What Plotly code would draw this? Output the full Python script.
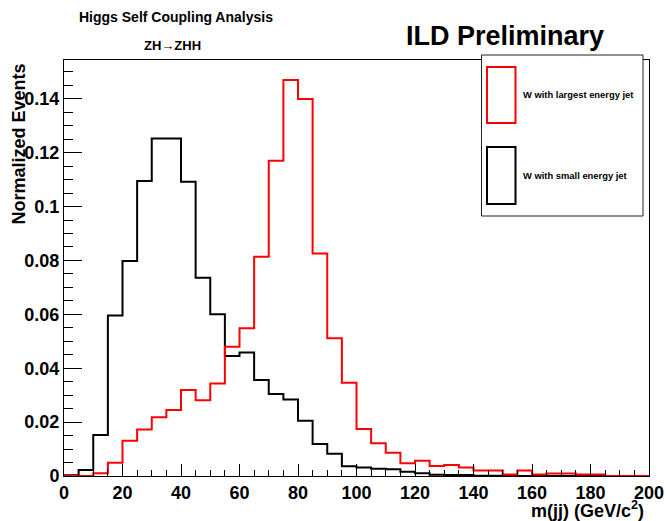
import plotly.graph_objects as go

# ---------------- data ----------------
bin_edges = [i * 5 for i in range(40)]  # left edges of 5 GeV bins, 0..195
x_max = 200

# W with largest energy jet (red)
red_values = [0.0000, 0.0000, 0.0010, 0.0049, 0.0131, 0.0173, 0.0218, 0.0245,
              0.0319, 0.0281, 0.0343, 0.0480, 0.0548, 0.0814, 0.1170, 0.1470,
              0.1399, 0.0826, 0.0511, 0.0346, 0.0174, 0.0122, 0.0086, 0.0047,
              0.0057, 0.0037, 0.0041, 0.0032, 0.0020, 0.0020, 0.0006, 0.0020,
              0.0006, 0.0009, 0.0009, 0.0006, 0.0006, 0.0000, 0.0000, 0.0000]

# W with small energy jet (black)
black_values = [0.0003, 0.0022, 0.0152, 0.0596, 0.0798, 0.1095, 0.1253, 0.1253,
                0.1092, 0.0736, 0.0600, 0.0445, 0.0458, 0.0356, 0.0304, 0.0284,
                0.0205, 0.0119, 0.0083, 0.0036, 0.0032, 0.0027, 0.0025, 0.0016,
                0.0010, 0.0005, 0.0004, 0.0004, 0.0001, 0.0001, 0.0000, 0.0000,
                0.0000, 0.0000, 0.0000, 0.0000, 0.0000, 0.0000, 0.0000, 0.0000]

y_tickvals = [0, 0.02, 0.04, 0.06, 0.08, 0.10, 0.12, 0.14]
y_ticktext = ["0", "0.02", "0.04", "0.06", "0.08", "0.1", "0.12", "0.14"]
x_tickvals = [0, 20, 40, 60, 80, 100, 120, 140, 160, 180, 200]
x_ticktext = [str(v) for v in x_tickvals]

legend_labels = ["W with largest energy jet", "W with small energy jet"]

# ---------------- layout geometry ----------------
W, H = 667, 521
L, R, T, B = 64, 649, 60, 476   # plot area in pixels
FONT = "Liberation Sans, Arial, Helvetica, sans-serif"


def px_x(px):
    return (px - L) / (R - L)


def px_y(py):
    return (B - py) / (B - T)


def step(values):
    xs = list(bin_edges) + [x_max]
    ys = list(values) + [values[-1]]
    return xs, ys


fig = go.Figure()
bx, by = step(black_values)
fig.add_trace(go.Scatter(x=bx, y=by, mode="lines", line=dict(color="black", width=2, shape="hv"),
                         hoverinfo="skip", showlegend=False))
rx, ry = step(red_values)
fig.add_trace(go.Scatter(x=rx, y=ry, mode="lines", line=dict(color="#ff0000", width=2, shape="hv"),
                         hoverinfo="skip", showlegend=False))

axis_font = dict(family=FONT, size=18, color="black", weight="bold")

fig.update_layout(
    width=W, height=H,
    margin=dict(l=L, r=W - R, t=T, b=H - B, pad=0, autoexpand=False),
    paper_bgcolor="white", plot_bgcolor="white",
    showlegend=False,
    font=dict(family=FONT, color="black"),
    xaxis=dict(range=[0, 200], showgrid=False, zeroline=False, automargin=False,
               showline=True, linecolor="black", linewidth=1, mirror=True,
               ticks="inside", ticklen=12, tickwidth=1, tickcolor="black",
               tickvals=x_tickvals, ticktext=x_ticktext, tickfont=axis_font,
               minor=dict(ticks="inside", ticklen=6, dtick=5, tickcolor="black", tickwidth=1, showgrid=False)),
    yaxis=dict(range=[0, 0.1544], showgrid=False, zeroline=False, automargin=False,
               showline=True, linecolor="black", linewidth=1, mirror=True,
               ticks="inside", ticklen=18, tickwidth=1, tickcolor="black",
               tickvals=y_tickvals, ticktext=y_ticktext, tickfont=axis_font,
               minor=dict(ticks="inside", ticklen=9, dtick=0.005, tickcolor="black", tickwidth=1, showgrid=False)),
)

shapes = []
# legend box
shapes.append(dict(type="rect", xref="paper", yref="paper", layer="above",
                   x0=px_x(481.5), x1=px_x(643), y0=px_y(216), y1=px_y(55),
                   fillcolor="white", line=dict(color="#222", width=1)))
shapes.append(dict(type="rect", xref="paper", yref="paper", layer="above",
                   x0=px_x(487), x1=px_x(515.5), y0=px_y(123), y1=px_y(67),
                   fillcolor="rgba(0,0,0,0)", line=dict(color="#ff0000", width=2)))
shapes.append(dict(type="rect", xref="paper", yref="paper", layer="above",
                   x0=px_x(487), x1=px_x(515.5), y0=px_y(204), y1=px_y(147),
                   fillcolor="rgba(0,0,0,0)", line=dict(color="black", width=2)))
fig.update_layout(shapes=shapes)

ann = []
ann.append(dict(text="<b>" + legend_labels[0] + "</b>", x=px_x(521), y=px_y(94), xref="paper", yref="paper",
                xanchor="left", yanchor="middle", showarrow=False,
                font=dict(family=FONT, size=9.4, color="black")))
ann.append(dict(text="<b>" + legend_labels[1] + "</b>", x=px_x(521), y=px_y(175), xref="paper", yref="paper",
                xanchor="left", yanchor="middle", showarrow=False,
                font=dict(family=FONT, size=9.4, color="black")))
ann.append(dict(text="<b>Higgs Self Coupling Analysis</b>", x=px_x(175.5), y=px_y(17), xref="paper", yref="paper",
                xanchor="center", yanchor="middle", showarrow=False,
                font=dict(family=FONT, size=14, color="black")))
ann.append(dict(text="<b>ZH→ZHH</b>", x=px_x(172), y=px_y(45), xref="paper", yref="paper",
                xanchor="center", yanchor="middle", showarrow=False,
                font=dict(family="Liberation Sans, DejaVu Sans, sans-serif", size=13, color="black")))
ann.append(dict(text="<b>ILD Preliminary</b>", x=px_x(404), y=px_y(36), xref="paper", yref="paper",
                xanchor="left", yanchor="middle", showarrow=False,
                font=dict(family=FONT, size=27, color="black")))
ann.append(dict(text="<b>Normalized Events</b>", x=px_x(18), y=px_y(62), xref="paper", yref="paper",
                xanchor="center", yanchor="top", textangle=-90, showarrow=False,
                font=dict(family=FONT, size=18, color="black")))
ann.append(dict(text="<b>m(jj) (GeV/c<sup>2</sup>)</b>", x=px_x(646), y=px_y(509), xref="paper", yref="paper",
                xanchor="right", yanchor="middle", showarrow=False,
                font=dict(family=FONT, size=18, color="black")))
fig.update_layout(annotations=ann)

fig.write_html("out.html")
